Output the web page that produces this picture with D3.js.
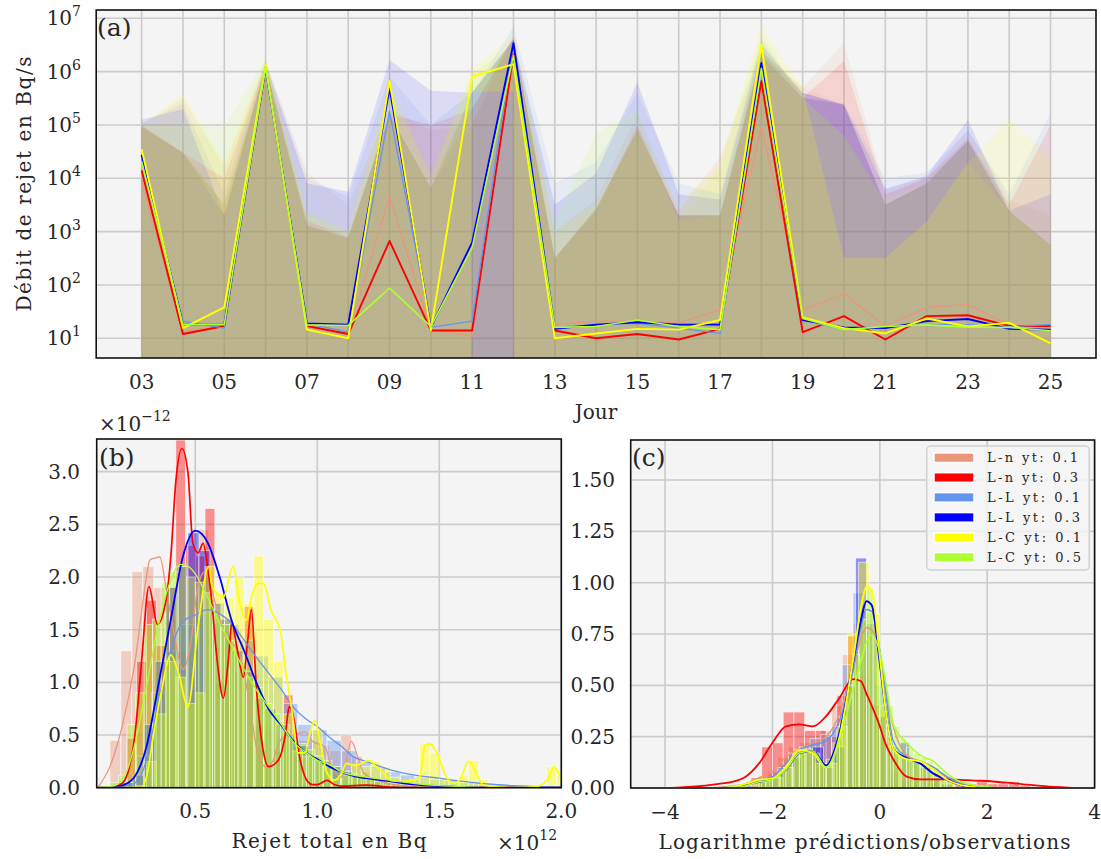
<!DOCTYPE html>
<html>
<head>
<meta charset="utf-8">
<script src="https://cdn.jsdelivr.net/npm/d3@7"></script>
<style>
html,body{margin:0;padding:0;background:#ffffff;}
svg text{font-family:"DejaVu Serif",serif;fill:#262626;}
</style>
</head>
<body>
<svg id="fig" width="1101" height="859"></svg>
<script>
// ================= DATA =================
const seriesLabels = ["L-n yt: 0.1","L-n yt: 0.3","L-L yt: 0.1","L-L yt: 0.3","L-C yt: 0.1","L-C yt: 0.5"];
const seriesColors = ["#E9967A","#FF0000","#6495ED","#0000FF","#FFFF00","#ADFF2F"];

// ---- panel (a): daily release rate (Bq/s) ----
const days = [3,4,5,6,7,8,9,10,11,12,13,14,15,16,17,18,19,20,21,22,23,24,25];
const dayTickValues = [3,5,7,9,11,13,15,17,19,21,23,25];
const dayTickLabels = ["03","05","07","09","11","13","15","17","19","21","23","25"];
const decadeTicks = [1e1,1e2,1e3,1e4,1e5,1e6,1e7];
const decadeExp = ["1","2","3","4","5","6","7"];

const medLn01 = [9000,13.5,17,1.2e6,17,12,4600,14.5,11,2.5e6,18,21,21,19.5,34,9.3e4,34,68,17,38,43,18,17];
const medLn03 = [14000,12,17,1.2e6,17,12,670,14,14,2.1e6,14,10,12,9.5,15,6.7e5,13,26,9.5,26,27,17,17];
const medLL01 = [24000,21,15.5,1.2e6,19,13,1.8e5,16,21,3.8e6,16,18,19,15.5,12.3,1.15e6,22,14.5,16,18,18,16.6,18];
const medLL03 = [27500,18,18,1.2e6,19,18,4.9e5,16,630,3.4e6,15,18,20,18,18,1.45e6,22,16,15.5,21,23,15,14.5];
const medLC01 = [35000,15.5,38,1.33e6,14.5,10,6.7e5,14,8.1e5,1.38e6,10,12.3,15,14.5,22,3.2e6,24.5,15.5,12.3,23.5,16.6,19.5,8];
const medLC05 = [20500,18,18,1.2e6,17.8,17.4,87,16.6,500,2.0e6,16,16.6,22,16.6,14.5,1.15e6,23.5,14.5,16.6,17.8,16.2,16,13.8];

// outer upper bound of each ensemble band
const upLn01 = [1.0e5,3.2e5,1.6e4,1.6e6,1.3e4,3.2e3,2.0e5,8.0e4,1.0e5,5.0e6,1.0e3,4.0e3,1.6e5,2.5e3,2.5e4,2.5e6,5.0e5,3.5e6,6.3e3,1.0e4,8.0e4,4.0e3,2.0e3];
const upLn03 = [1.0e5,3.0e4,1.0e4,1.4e6,1.6e3,8.0e2,1.6e5,1.0e5,2.0e5,4.5e6,3.2e2,2.5e3,1.0e5,2.0e3,2.0e3,2.0e6,3.2e5,1.6e6,5.0e3,1.0e4,5.6e4,3.2e3,1.0e5];
const upLL01 = [1.1e5,2.5e5,5.0e3,1.6e6,1.0e4,4.5e3,8.0e5,1.0e5,4.0e5,7.0e6,8.0e3,2.0e4,4.0e5,8.0e3,5.0e3,4.0e6,3.2e5,2.5e5,1.0e4,1.3e4,8.0e4,5.0e3,1.7e5];
const upLL03 = [1.25e5,2.0e5,2.0e3,1.4e6,8.0e3,5.6e3,1.65e6,4.4e5,4.0e5,4.0e6,3.2e3,1.25e4,6.3e5,5.0e3,4.0e3,3.2e6,4.0e5,2.4e5,6.3e3,1.1e4,1.25e5,2.5e3,5.0e3];
const upLC01 = [1.0e5,4.0e5,2.0e4,1.8e6,2.0e3,1.0e3,6.3e5,1.0e4,1.15e6,5.0e6,1.0e3,3.2e3,8.0e4,3.2e3,2.0e4,7.5e6,5.0e5,3.2e2,3.2e2,1.55e3,2.0e4,1.3e5,2.5e4];
const upLC05 = [1.0e5,1.0e5,9.3e4,1.8e6,2.5e3,1.0e3,4.0e5,1.25e4,9.0e5,3.2e6,1.6e3,7.0e4,2.0e5,1.6e3,1.6e4,5.0e6,3.2e5,6.3e4,4.0e3,8.0e3,5.0e4,2.5e3,5.6e2];
// top of the dense (darker) inner part of the bands
const coreTop = [9.3e4,3.0e4,3.2e3,1.25e6,1.3e3,7.5e2,1.55e5,6.5e3,4.2e5,4.0e6,3.2e2,2.75e3,8.0e4,2.0e3,2.0e3,2.4e6,5.6e5,2.4e5,3.2e3,8.0e3,5.0e4,2.4e3,5.6e2];

const lowZero = [0,0,0,0,0,0,0,0,0,0,0,0,0,0,0,0,0,0,0,0,0,0,0];
const lowLC01 = [0,0,0,0,0,0,0,0,4.2e5,4.2e5,0,0,0,0,0,0,0,0,0,0,0,0,0];

// ---- panel (b): total release (x 1e12 Bq), density (x 1e-12) ----
const bTicksX = [0.5,1.0,1.5,2.0];
const bTicksXLabels = ["0.5","1.0","1.5","2.0"];
const bTicksY = [0,0.5,1.0,1.5,2.0,2.5,3.0];
const bTicksYLabels = ["0.0","0.5","1.0","1.5","2.0","2.5","3.0"];

const bHistStart = [0.15,0.18,0.2,0.2,0.26,0.15];
const bHistWidth = [0.045,0.04,0.06,0.045,0.04,0.035];
const bHistLn01 = [0.45,1.3,2.05,2.1,1.9,1.6,1.3,1.2,2.45,1.5,1.6,1.5,1.4,0.9,0.6,0.5,0.55,0.45,0.45,0.4,0.35,0.5,0.3,0.15,0.05];
const bHistLn03 = [0.05,0.47,1.2,1.78,1.35,1.9,3.3,2.3,2.2,2.65,1.0,1.55,1.1,1.72,0.6,0.2,0.35,0.88,0.3,0.05,0.05,0.08,0.03,0.02,0.03,0.02];
const bHistLL01 = [0.05,0.3,0.9,1.3,1.55,1.65,1.75,1.55,1.4,1.25,1.05,0.8,0.6,0.55,0.45,0.35,0.25,0.2,0.15,0.12,0.1,0.08,0.07,0.05,0.04,0.03,0.02,0.02,0.01];
const bHistLL03 = [0.05,0.12,0.6,1.2,1.9,2.1,2.42,2.25,1.75,1.6,1.3,1.1,0.85,0.75,0.6,0.5,0.4,0.3,0.25,0.2,0.15,0.12,0.1,0.08,0.05,0.04,0.03];
const bHistLC01 = [0.02,0.25,0.7,1.2,1.05,0.8,0.9,2.1,1.85,1.8,2.0,1.75,2.2,1.6,1.2,0.7,0.35,0.3,0.55,0.2,0.08,0.12,0.22,0.2,0.25,0.2,0.1,0.06,0.08,0.42,0.33,0.1,0.05,0.12,0.26,0.08,0.02,0,0,0,0,0.02,0.2,0.12];
const bHistLC05 = [0.05,0.12,0.6,0.9,1.55,1.6,1.95,2.05,2.1,2.0,1.95,1.85,1.65,1.55,1.4,1.2,1.05,0.95,0.8,0.7,0.6,0.5,0.42,0.36,0.3,0.26,0.2,0.16,0.13,0.1,0.08,0.06,0.05,0.04,0.03,0.02,0.01];

const bKdeXLn01 = [0.1,0.15,0.2,0.25,0.3,0.313,0.334,0.355,0.38,0.41,0.45,0.48,0.51,0.54,0.57,0.6,0.63,0.66,0.7,0.73,0.76,0.79,0.82,0.84,0.88,0.9,0.95,0.98,1.03,1.06,1.1,1.14,1.17,1.19,1.26,1.33,1.5,2.0];
const bKdeYLn01 = [0,0.2,0.58,1.15,2.0,2.16,2.18,2.19,1.9,1.5,1.12,1.35,1.9,2.05,1.85,1.6,1.4,1.35,1.1,0.67,0.29,0.2,0.26,0.42,0.5,0.5,0.53,0.44,0.39,0.2,0.1,0.44,0.26,0.14,0.06,0.025,0,0];
const bKdeXLn03 = [0.1,0.15,0.2,0.25,0.28,0.31,0.345,0.38,0.4,0.42,0.445,0.47,0.49,0.512,0.532,0.55,0.567,0.59,0.615,0.635,0.65,0.67,0.697,0.715,0.73,0.75,0.78,0.8,0.84,0.87,0.885,0.9,0.93,0.96,0.98,1.0,1.04,1.07,1.1,1.15,1.2,1.3,1.4,2.0];
const bKdeYLn03 = [0,0,0.04,0.45,1.2,1.91,1.55,1.78,2.2,2.9,3.22,2.99,2.32,2.23,2.32,2.1,1.78,1.2,0.85,1.2,1.56,1.34,1.05,1.4,1.69,0.96,0.33,0.2,0.26,0.52,0.77,0.7,0.26,0.06,0.03,0.03,0.07,0.03,0.015,0.02,0.025,0.005,0,0];
const bKdeXLL01 = [0.1,0.15,0.2,0.25,0.3,0.35,0.4,0.45,0.5,0.55,0.6,0.65,0.7,0.75,0.8,0.85,0.9,0.95,1.0,1.05,1.1,1.15,1.2,1.3,1.4,1.5,1.6,1.7,1.8,1.9,2.0];
const bKdeYLL01 = [0,0,0.01,0.04,0.26,0.83,1.31,1.58,1.64,1.69,1.65,1.56,1.4,1.24,1.09,0.94,0.77,0.66,0.58,0.48,0.39,0.29,0.25,0.17,0.12,0.09,0.06,0.035,0.02,0.01,0.006];
const bKdeXLL03 = [0.1,0.15,0.2,0.25,0.3,0.35,0.4,0.45,0.5,0.55,0.6,0.65,0.7,0.75,0.8,0.85,0.9,0.95,1.0,1.05,1.1,1.15,1.2,1.3,1.4,1.5,1.6,1.7,2.0];
const bKdeYLL03 = [0,0,0.02,0.1,0.39,0.99,1.6,2.2,2.44,2.33,2.0,1.58,1.3,1.0,0.75,0.6,0.45,0.34,0.27,0.2,0.15,0.11,0.09,0.06,0.03,0.015,0.005,0,0];
const bKdeXLC01 = [0.1,0.28,0.3,0.33,0.36,0.4,0.43,0.47,0.51,0.555,0.57,0.615,0.655,0.68,0.71,0.73,0.76,0.78,0.81,0.85,0.87,0.9,0.92,0.95,0.97,0.99,1.01,1.04,1.07,1.1,1.12,1.15,1.18,1.21,1.24,1.27,1.3,1.34,1.39,1.42,1.44,1.46,1.49,1.53,1.56,1.59,1.62,1.66,1.68,1.8,1.9,1.95,1.97,2.0];
const bKdeYLC01 = [0,0,0.1,0.52,0.9,1.26,1.1,0.77,1.5,2.1,1.9,1.81,2.1,1.78,1.59,1.81,1.94,1.94,1.69,1.47,1.12,0.67,0.33,0.33,0.52,0.64,0.45,0.14,0.07,0.14,0.23,0.21,0.23,0.26,0.2,0.14,0.07,0.06,0.07,0.1,0.39,0.42,0.33,0.1,0.04,0.1,0.25,0.1,0.025,0,0.01,0.1,0.2,0.07];
const bKdeXLC05 = [0.1,0.15,0.2,0.25,0.3,0.35,0.4,0.4375,0.47,0.5,0.55,0.6,0.65,0.7,0.75,0.8,0.85,0.9,0.95,1.0,1.05,1.1,1.2,1.3,1.4,1.5,1.6,1.7,2.0];
const bKdeYLC05 = [0,0.01,0.07,0.39,0.96,1.56,1.97,2.12,2.1,2.03,1.81,1.56,1.34,1.12,0.93,0.77,0.61,0.44,0.34,0.26,0.22,0.15,0.1,0.07,0.04,0.02,0.01,0,0];

// ---- panel (c): log(predictions/observations) ----
const cTicksX = [-4,-2,0,2,4];
const cTicksXLabels = ["\u22124","\u22122","0","2","4"];
const cTicksY = [0,0.25,0.5,0.75,1.0,1.25,1.5];
const cTicksYLabels = ["0.00","0.25","0.50","0.75","1.00","1.25","1.50"];

const cHistStart = [-2.7,-2.6,-2.5,-2.45,-2.4,-2.25];
const cHistWidth = [0.2,0.2,0.2,0.2,0.2,0.125];
const cHistLn01 = [0.01,0.02,0.05,0.08,0.15,0.2,0.22,0.22,0.28,0.4,0.65,0.8,0.65,0.4,0.2,0.15,0.13,0.1,0.06,0.02,0.01];
const cHistLn03 = [0.02,0.05,0.2,0.22,0.37,0.37,0.28,0.28,0.25,0.45,0.74,0.55,0.4,0.25,0.08,0.04,0.04,0.05,0.04,0.03,0.03,0.02,0.03,0.02,0.02,0.03,0.01];
const cHistLL01 = [0.01,0.03,0.05,0.1,0.17,0.2,0.24,0.26,0.3,0.6,0.95,0.85,0.5,0.2,0.15,0.14,0.11,0.07,0.03,0.01];
const cHistLL03 = [0.01,0.03,0.05,0.1,0.15,0.18,0.2,0.1,0.2,0.5,1.12,0.8,0.35,0.18,0.22,0.13,0.1,0.05,0.02];
const cHistLC01 = [0.02,0.04,0.05,0.1,0.19,0.18,0.12,0.12,0.3,0.75,1.1,0.85,0.4,0.2,0.15,0.13,0.1,0.05,0.02];
const cHistLC05 = [0.03,0.04,0.06,0.09,0.12,0.17,0.2,0.19,0.17,0.12,0.14,0.22,0.35,0.5,0.65,0.82,0.97,0.75,0.55,0.4,0.3,0.24,0.2,0.17,0.15,0.13,0.1,0.07,0.04];

const cKdeX = [-4.64,-4,-3.5,-3,-2.75,-2.5,-2.25,-2,-1.75,-1.5,-1.25,-1,-0.75,-0.5,-0.35,-0.25,-0.15,0,0.1,0.25,0.5,0.75,1,1.25,1.5,1.75,2,2.25,2.5,2.75,3,3.25,3.5,4];
const cKdeLn01 = [0,0,0,0.003,0.01,0.02,0.05,0.08,0.15,0.19,0.22,0.25,0.36,0.59,0.73,0.78,0.77,0.64,0.49,0.3,0.16,0.13,0.1,0.05,0.015,0.006,0.002,0,0,0,0,0,0,0];
const cKdeLn03 = [0,0,0.006,0.02,0.03,0.055,0.12,0.22,0.3,0.31,0.3,0.35,0.44,0.53,0.52,0.46,0.4,0.3,0.22,0.14,0.055,0.042,0.042,0.042,0.04,0.036,0.034,0.028,0.023,0.016,0.01,0.005,0.002,0];
const cKdeLL01 = [0,0,0,0,0.005,0.015,0.04,0.055,0.12,0.185,0.21,0.23,0.33,0.57,0.79,0.87,0.86,0.67,0.48,0.23,0.15,0.13,0.1,0.055,0.023,0.006,0.002,0,0,0,0,0,0,0];
const cKdeLL03 = [0,0,0,0,0.004,0.015,0.03,0.045,0.09,0.17,0.18,0.11,0.27,0.61,0.82,0.91,0.89,0.61,0.4,0.19,0.145,0.12,0.07,0.04,0.015,0.005,0,0,0,0,0,0,0,0];
const cKdeLC01 = [0,0,0,0,0.006,0.02,0.04,0.047,0.1,0.185,0.17,0.1,0.25,0.62,0.88,0.98,0.96,0.64,0.4,0.19,0.14,0.13,0.09,0.04,0.015,0.005,0,0,0,0,0,0,0,0];
const cKdeLC05 = [0,0,0,0,0.003,0.01,0.03,0.04,0.09,0.17,0.18,0.1,0.23,0.48,0.62,0.71,0.745,0.66,0.53,0.31,0.22,0.16,0.13,0.07,0.03,0.015,0.006,0,0,0,0,0,0,0];

// ================= DRAWING =================
const svg = d3.select("#fig");
const BG = "#f4f4f4", GRID = "#cbcbcb";
const defs = svg.append("defs");

function clip(id, x0, y0, x1, y1) {
  defs.append("clipPath").attr("id", id).append("rect")
    .attr("x", x0).attr("y", y0).attr("width", x1 - x0).attr("height", y1 - y0);
  return "url(#" + id + ")";
}

// ---------- Panel (a) ----------
const ax = d3.scaleLinear().domain([1.9, 26.1]).range([96.2, 1096]);
const ay = d3.scaleLog().domain([Math.pow(10, 0.63), Math.pow(10, 7.156)]).range([358, 10]);
const A = {x0: 96.2, x1: 1096, y0: 10, y1: 358};
svg.append("rect").attr("x", A.x0).attr("y", A.y0).attr("width", A.x1 - A.x0).attr("height", A.y1 - A.y0).attr("fill", BG);
const ga = svg.append("g");
const gaGrid = ga.append("g").attr("stroke", GRID).attr("stroke-width", 1.6);
days.forEach(d => gaGrid.append("line").attr("x1", ax(d)).attr("x2", ax(d)).attr("y1", A.y0).attr("y2", A.y1));
decadeTicks.forEach(v => gaGrid.append("line").attr("x1", A.x0).attr("x2", A.x1).attr("y1", ay(v)).attr("y2", ay(v)));

const aClip = clip("clipA", A.x0, A.y0, A.x1, A.y1);
const meds = [medLn01, medLn03, medLL01, medLL03, medLC01, medLC05];
const ups = [upLn01, upLn03, upLL01, upLL03, upLC01, upLC05];
const lows = [lowZero, lowZero, lowZero, lowZero, lowLC01, lowZero];
const gFill = ga.append("g").attr("clip-path", aClip);
const area = d3.area()
  .x(d => ax(d.day))
  .y0(d => ay(d.lo > 0 ? d.lo : 1e-300))
  .y1(d => ay(d.hi));
for (let s = 0; s < 6; s++) {
  const outer = days.map((d, i) => ({day: d, lo: lows[s][i], hi: ups[s][i]}));
  gFill.append("path").attr("d", area(outer)).attr("fill", seriesColors[s]).attr("fill-opacity", 0.1);
  const inner = days.map((d, i) => ({day: d, lo: lows[s][i], hi: Math.max(lows[s][i], Math.min(ups[s][i], coreTop[i]))}));
  gFill.append("path").attr("d", area(inner)).attr("fill", seriesColors[s]).attr("fill-opacity", 0.085);
}
const gLines = ga.append("g").attr("clip-path", aClip);
const lineA = d3.line().x(d => ax(d.day)).y(d => ay(d.v));
const aWidths = [1.3, 1.9, 1.3, 1.9, 1.9, 1.6];
for (let s = 0; s < 6; s++) {
  const rows = days.map((d, i) => ({day: d, v: meds[s][i]}));
  gLines.append("path").attr("d", lineA(rows)).attr("fill", "none")
    .attr("stroke", seriesColors[s]).attr("stroke-width", aWidths[s]).attr("stroke-linejoin", "round");
}
svg.append("rect").attr("x", A.x0).attr("y", A.y0).attr("width", A.x1 - A.x0).attr("height", A.y1 - A.y0)
  .attr("fill", "none").attr("stroke", "#111").attr("stroke-width", 1.6);

// ticks (a)
decadeTicks.forEach((v, i) => {
  const t = svg.append("text").attr("x", 81).attr("y", ay(v) + 7).attr("text-anchor", "end").attr("font-size", 20);
  t.append("tspan").text("10");
  t.append("tspan").attr("dy", -9).attr("font-size", 14).text(decadeExp[i]);
});
dayTickValues.forEach((d, i) => {
  svg.append("text").attr("x", ax(d)).attr("y", 389).attr("text-anchor", "middle").attr("font-size", 20).text(dayTickLabels[i]);
});
svg.append("text").attr("x", 596).attr("y", 419).attr("text-anchor", "middle").attr("font-size", 20).text("Jour");
svg.append("text").attr("transform", "translate(31,184) rotate(-90)").attr("text-anchor", "middle")
  .attr("font-size", 20).attr("textLength", 255).attr("lengthAdjust", "spacing").text("Débit de rejet en Bq/s");
svg.append("text").attr("x", 97).attr("y", 36).attr("font-size", 25).text("(a)");

// ---------- Panel (b) ----------
const bx = d3.scaleLinear().domain([0.096, 2.0]).range([96.7, 561.3]);
const by = d3.scaleLinear().domain([0, 3.31]).range([787.7, 439]);
const B = {x0: 96.7, x1: 561.3, y0: 439, y1: 787.7};
svg.append("rect").attr("x", B.x0).attr("y", B.y0).attr("width", B.x1 - B.x0).attr("height", B.y1 - B.y0).attr("fill", BG);
const gbGrid = svg.append("g").attr("stroke", GRID).attr("stroke-width", 1.6);
bTicksX.forEach(v => gbGrid.append("line").attr("x1", bx(v)).attr("x2", bx(v)).attr("y1", B.y0).attr("y2", B.y1));
bTicksY.forEach(v => gbGrid.append("line").attr("x1", B.x0).attr("x2", B.x1).attr("y1", by(v)).attr("y2", by(v)));
const bClip = clip("clipB", B.x0, B.y0, B.x1, B.y1);
const gbBars = svg.append("g").attr("clip-path", bClip);
const bHists = [bHistLn01, bHistLn03, bHistLL01, bHistLL03, bHistLC01, bHistLC05];
for (let s = 0; s < 6; s++) {
  const w = bHistWidth[s];
  bHists[s].forEach((h, i) => {
    const x0 = bHistStart[s] + i * w;
    gbBars.append("rect").attr("x", bx(x0)).attr("width", bx(x0 + w) - bx(x0))
      .attr("y", by(h)).attr("height", by(0) - by(h))
      .attr("fill", seriesColors[s]).attr("fill-opacity", 0.42)
      .attr("stroke", "#ffffff").attr("stroke-width", 0.8).attr("stroke-opacity", 0.7);
  });
}
const bKx = [bKdeXLn01, bKdeXLn03, bKdeXLL01, bKdeXLL03, bKdeXLC01, bKdeXLC05];
const bKy = [bKdeYLn01, bKdeYLn03, bKdeYLL01, bKdeYLL03, bKdeYLC01, bKdeYLC05];
const bW = [1.3, 1.7, 1.3, 1.8, 1.7, 1.4];
const lineB = d3.line().x(d => bx(d[0])).y(d => by(d[1])).curve(d3.curveMonotoneX);
const gbLines = svg.append("g").attr("clip-path", bClip);
for (let s = 0; s < 6; s++) {
  const pts = bKx[s].map((v, i) => [v, bKy[s][i]]);
  gbLines.append("path").attr("d", lineB(pts)).attr("fill", "none")
    .attr("stroke", seriesColors[s]).attr("stroke-width", bW[s]);
}
svg.append("rect").attr("x", B.x0).attr("y", B.y0).attr("width", B.x1 - B.x0).attr("height", B.y1 - B.y0)
  .attr("fill", "none").attr("stroke", "#111").attr("stroke-width", 1.6);
bTicksY.forEach((v, i) => svg.append("text").attr("x", 80).attr("y", by(v) + 7).attr("text-anchor", "end").attr("font-size", 20).text(bTicksYLabels[i]));
bTicksX.forEach((v, i) => svg.append("text").attr("x", bx(v)).attr("y", 818).attr("text-anchor", "middle").attr("font-size", 20).text(bTicksXLabels[i]));
svg.append("text").attr("x", 329).attr("y", 848).attr("text-anchor", "middle").attr("font-size", 20)
  .attr("textLength", 195).attr("lengthAdjust", "spacing").text("Rejet total en Bq");
{
  const t = svg.append("text").attr("x", 497).attr("y", 850).attr("font-size", 20);
  t.append("tspan").text("×10");
  t.append("tspan").attr("dy", -10).attr("font-size", 14).text("12");
  const t2 = svg.append("text").attr("x", 99).attr("y", 431).attr("font-size", 20);
  t2.append("tspan").text("×10");
  t2.append("tspan").attr("dy", -10).attr("font-size", 14).text("\u221212");
}
svg.append("text").attr("x", 99).attr("y", 466).attr("font-size", 25).text("(b)");

// ---------- Panel (c) ----------
const cx = d3.scaleLinear().domain([-4.64, 4.0]).range([630.7, 1094.6]);
const cy = d3.scaleLinear().domain([0, 1.695]).range([788, 440]);
const C = {x0: 630.7, x1: 1094.6, y0: 440, y1: 788};
svg.append("rect").attr("x", C.x0).attr("y", C.y0).attr("width", C.x1 - C.x0).attr("height", C.y1 - C.y0).attr("fill", BG);
const gcGrid = svg.append("g").attr("stroke", GRID).attr("stroke-width", 1.6);
cTicksX.forEach(v => gcGrid.append("line").attr("x1", cx(v)).attr("x2", cx(v)).attr("y1", C.y0).attr("y2", C.y1));
cTicksY.forEach(v => gcGrid.append("line").attr("x1", C.x0).attr("x2", C.x1).attr("y1", cy(v)).attr("y2", cy(v)));
const cClip = clip("clipC", C.x0, C.y0, C.x1, C.y1);
const gcBars = svg.append("g").attr("clip-path", cClip);
const cHists = [cHistLn01, cHistLn03, cHistLL01, cHistLL03, cHistLC01, cHistLC05];
for (let s = 0; s < 6; s++) {
  const w = cHistWidth[s];
  cHists[s].forEach((h, i) => {
    const x0 = cHistStart[s] + i * w;
    gcBars.append("rect").attr("x", cx(x0)).attr("width", cx(x0 + w) - cx(x0))
      .attr("y", cy(h)).attr("height", cy(0) - cy(h))
      .attr("fill", seriesColors[s]).attr("fill-opacity", 0.42)
      .attr("stroke", "#ffffff").attr("stroke-width", 0.8).attr("stroke-opacity", 0.7);
  });
}
const cK = [cKdeLn01, cKdeLn03, cKdeLL01, cKdeLL03, cKdeLC01, cKdeLC05];
const cW = [1.5, 1.8, 1.5, 2.0, 1.9, 1.6];
const lineC = d3.line().x(d => cx(d[0])).y(d => cy(d[1])).curve(d3.curveMonotoneX);
const gcLines = svg.append("g").attr("clip-path", cClip);
for (let s = 0; s < 6; s++) {
  const pts = cKdeX.map((v, i) => [v, cK[s][i]]);
  gcLines.append("path").attr("d", lineC(pts)).attr("fill", "none")
    .attr("stroke", seriesColors[s]).attr("stroke-width", cW[s]);
}
svg.append("rect").attr("x", C.x0).attr("y", C.y0).attr("width", C.x1 - C.x0).attr("height", C.y1 - C.y0)
  .attr("fill", "none").attr("stroke", "#111").attr("stroke-width", 1.6);
cTicksY.forEach((v, i) => svg.append("text").attr("x", 615).attr("y", cy(v) + 7).attr("text-anchor", "end").attr("font-size", 20).text(cTicksYLabels[i]));
cTicksX.forEach((v, i) => svg.append("text").attr("x", cx(v)).attr("y", 819).attr("text-anchor", "middle").attr("font-size", 20).text(cTicksXLabels[i]));
svg.append("text").attr("x", 864.5).attr("y", 849).attr("text-anchor", "middle").attr("font-size", 20)
  .attr("textLength", 412).attr("lengthAdjust", "spacing").text("Logarithme prédictions/observations");
svg.append("text").attr("x", 632).attr("y", 466).attr("font-size", 25).text("(c)");

// legend
const leg = svg.append("g");
leg.append("rect").attr("x", 926.7).attr("y", 446).attr("width", 162.6).attr("height", 124).attr("rx", 4)
  .attr("fill", "#f5f5f5").attr("fill-opacity", 0.85).attr("stroke", "#d0d0d0").attr("stroke-width", 1.5);
const legRows = [457.7, 477.5, 497.4, 517.4, 537.5, 557.3];
const legLen = [91, 91, 93, 93, 94, 94];
seriesLabels.forEach((lab, i) => {
  leg.append("rect").attr("x", 934).attr("y", legRows[i] - 4.8).attr("width", 40).attr("height", 9.6)
    .attr("fill", seriesColors[i]).attr("stroke", "#ffffff").attr("stroke-width", 1.5);
  leg.append("text").attr("x", 987).attr("y", legRows[i] + 4.6).attr("font-size", 13)
    .attr("textLength", legLen[i]).attr("lengthAdjust", "spacing").text(lab);
});
</script>
</body>
</html>
